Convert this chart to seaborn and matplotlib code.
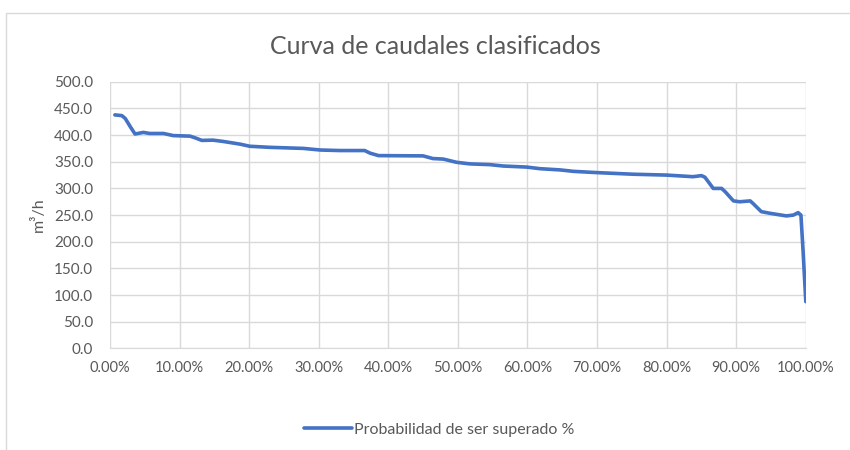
import matplotlib
matplotlib.use("Agg")
import matplotlib.pyplot as plt
import matplotlib.patches as mpatches
from matplotlib.ticker import FuncFormatter, MultipleLocator
import seaborn as sns
import pandas as pd

# probabilidad de ser superado (%) y caudal (m3/h)
prob = [0.7, 1.7, 2.2, 2.9, 3.6, 4.8, 5.7, 7.7, 9.1, 11.5, 12.2, 13.2, 14.8,
        16.3, 18.7, 20.1, 23.0, 27.8, 30.2, 33.0, 36.6, 37.4, 38.6, 45.0,
        46.4, 47.9, 49.8, 51.7, 54.6, 56.5, 59.9, 61.8, 64.7, 66.6, 69.9,
        75.2, 80.0, 83.8, 85.0, 85.5, 86.7, 87.9, 88.4, 89.6, 90.5, 92.0,
        92.4, 93.6, 94.8, 97.2, 98.2, 98.9, 99.3, 99.6, 100.0]
caudal = [437.8, 436.5, 431, 416, 402, 405, 403, 403, 399, 398, 395, 390,
          390.5, 388, 383, 379, 377, 375, 372, 371, 371, 366, 361.5, 361,
          356, 355, 349, 346, 344.6, 342, 340, 337, 334.7, 332, 329.7,
          326.6, 325, 322, 324, 321, 300, 300, 294, 276.6, 275, 276.6, 272,
          256.5, 253.5, 248.5, 250, 254.6, 250, 184.7, 87.8]

serie = "Probabilidad de ser superado %"
df = pd.DataFrame({"prob": [p / 100 for p in prob], "caudal": caudal, "serie": serie})

sns.set_style("white")
plt.rcParams['font.family'] = ['Lato', 'DejaVu Sans']
gray = '#595959'

fig = plt.figure(figsize=(8.5, 4.5), dpi=100)
ax = fig.add_axes([0.1294, 0.2256, 0.8186, 0.5928])

# chart border
fig.patches.append(mpatches.Rectangle((0.007, -0.1), 1.2, 1.071, transform=fig.transFigure,
                                      fill=False, edgecolor='#d9d9d9', linewidth=1))

sns.lineplot(data=df, x="prob", y="caudal", hue="serie", palette=['#4472c4'],
             linewidth=2.6, ax=ax, sort=False)

ax.set_xlim(0, 1)
ax.set_ylim(0, 500)
ax.xaxis.set_major_locator(MultipleLocator(0.1))
ax.yaxis.set_major_locator(MultipleLocator(50))
ax.xaxis.set_major_formatter(FuncFormatter(lambda v, p: f"{v*100:.2f}%"))
ax.yaxis.set_major_formatter(FuncFormatter(lambda v, p: f"{v:.1f}"))
ax.grid(True, color='#d9d9d9', linewidth=1)
ax.set_axisbelow(True)
for s in ['top', 'right', 'left']:
    ax.spines[s].set_visible(False)
ax.spines['bottom'].set_color('#d9d9d9')
ax.tick_params(axis='x', colors=gray, labelsize=10.5, length=0, pad=9)
ax.tick_params(axis='y', colors=gray, labelsize=11, length=0, pad=12)
ax.set_xlabel("")
ax.set_ylabel("m³/h", color=gray, fontsize=11.5, labelpad=6)

# title centred on the whole chart area, as in the spreadsheet
fig.text(0.512, 0.896, "Curva de caudales clasificados", color=gray, fontsize=18,
         ha='center', va='center')

ax.legend(loc='center', bbox_to_anchor=(0.517, 0.045), bbox_transform=fig.transFigure,
          frameon=False, fontsize=11.5, labelcolor=gray, handlelength=3.0,
          handletextpad=0.15)

fig.savefig("out.png", dpi=100)
